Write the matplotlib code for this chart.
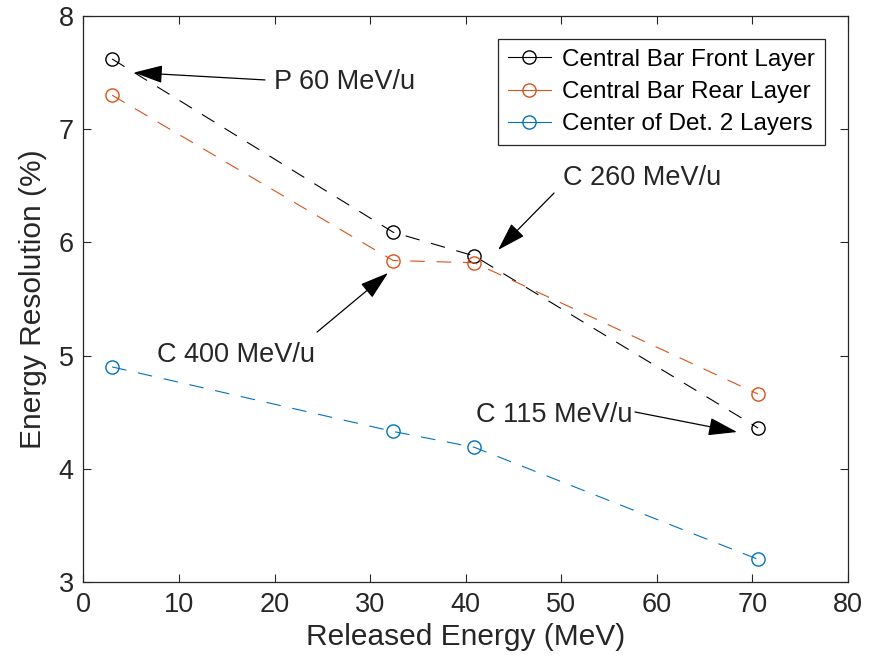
import matplotlib
matplotlib.use('Agg')
import matplotlib.pyplot as plt

plt.rcParams['font.family'] = ['Liberation Sans', 'DejaVu Sans']
plt.rcParams['lines.scale_dashes'] = False

# released energy (MeV) and energy resolution (%)
energy = [3.0, 32.4, 40.9, 70.6]
front_layer = [7.62, 6.09, 5.88, 4.36]
rear_layer = [7.30, 5.84, 5.82, 4.66]
center_two = [4.90, 4.33, 4.19, 3.20]

labels = ['Central Bar Front Layer', 'Central Bar Rear Layer', 'Center of Det. 2 Layers']
colors = ['#000000', '#D95319', '#0072BD']

axcol = '#262626'

fig = plt.figure(figsize=(8.78, 6.71), dpi=100)
ax = fig.add_axes([0.0951, 0.1326, 0.8707, 0.8436])

for ys, lab, c in zip([front_layer, rear_layer, center_two], labels, colors):
    ax.plot(energy, ys, color=c, lw=0.8, dashes=(10.5, 8.5), marker='o',
            markersize=9.5, markerfacecolor='none', markeredgewidth=1.0,
            label=lab)

ax.set_xlim(0, 80)
ax.set_ylim(3, 8)
ax.set_xticks(range(0, 81, 10))
ax.set_yticks(range(3, 9))
ax.tick_params(direction='in', length=6, width=0.8, colors=axcol,
               labelsize=19.5, top=True, right=True, pad=7)
for s in ax.spines.values():
    s.set_color(axcol)
    s.set_linewidth(0.9)

ax.set_xlabel('Released Energy (MeV)', fontsize=21.5, color=axcol, labelpad=4)
ax.set_ylabel('Energy Resolution (%)', fontsize=21.5, color=axcol, labelpad=8)

leg = ax.legend(loc='upper right', fontsize=17.5, frameon=True, fancybox=False,
                edgecolor=axcol, framealpha=1, borderaxespad=0.95,
                handlelength=1.8, handletextpad=0.45, labelspacing=0.42,
                borderpad=0.4)
leg.get_frame().set_linewidth(0.9)
for ln in leg.get_lines():
    ln.set_linestyle('-')

# beam labels with arrows
notes = [
    ('P 60 MeV/u', (5.28, 7.50), (18.99, 7.435), (19.94, 7.417), 'left'),
    ('C 260 MeV/u', (43.38, 5.933), (49.24, 6.436), (50.18, 6.569), 'left'),
    ('C 400 MeV/u', (31.87, 5.730), (24.44, 5.208), (7.69, 5.005), 'left'),
    ('C 115 MeV/u', (68.39, 4.325), (57.71, 4.502), (57.50, 4.475), 'right'),
]
for txt, tip, tail, pos, ha in notes:
    ax.annotate('', xy=tip, xytext=tail,
                arrowprops=dict(arrowstyle='-|>,head_length=0.9,head_width=0.28',
                                mutation_scale=20, lw=0.9, color='k',
                                shrinkA=0, shrinkB=0))
    ax.text(pos[0], pos[1], txt, ha=ha, va='center', fontsize=19.5, color=axcol)

fig.savefig('out.png', dpi=100)
